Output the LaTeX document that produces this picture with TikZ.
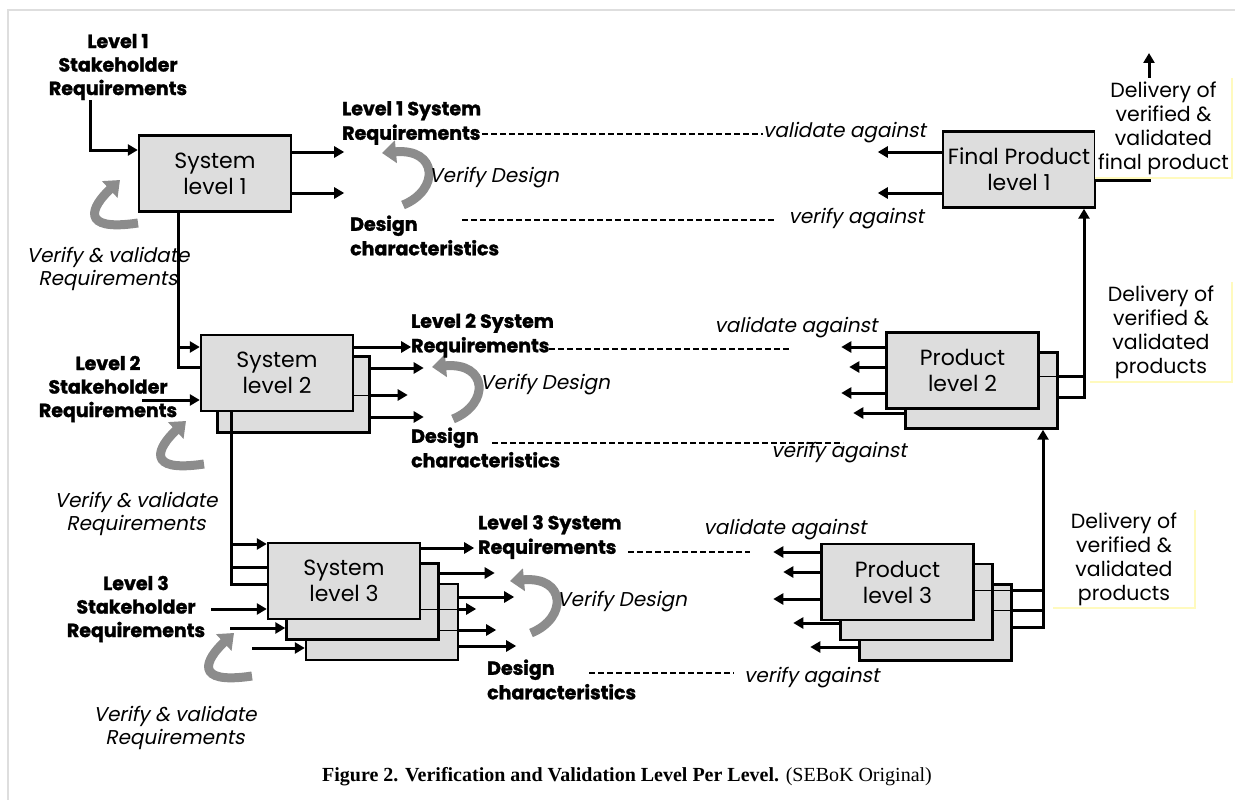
\documentclass[tikz,border=0pt]{standalone}
\usepackage{fontspec}
\setmainfont{Poppins}[AutoFakeSlant=0.2, BoldFeatures={FakeBold=1.5}]
\newfontfamily\capfont{Liberation Serif}
\usetikzlibrary{arrows.meta, positioning, calc}
\definecolor{BoxGray}{RGB}{221,221,221}
\definecolor{TurnGray}{RGB}{140,140,140}
\definecolor{NoteYellow}{RGB}{255,250,190}
\definecolor{FrameGray}{RGB}{222,222,222}

\tikzset{
  sysbox/.style={draw, line width=2.4pt, fill=BoxGray, minimum width=152pt, minimum height=76pt,
    inner sep=0pt, align=center, font=\fontsize{22}{26}\selectfont},
  stktag/.style={inner sep=0pt, align=center, font=\bfseries\fontsize{19}{23.5}\selectfont},
  boldtag/.style={inner sep=0pt, align=left, anchor=west, font=\bfseries\fontsize{19}{24.5}\selectfont},
  ittag/.style={inner sep=0pt, align=center, font=\itshape\fontsize{20}{23}\selectfont},
  notetag/.style={inner sep=0pt, align=center, fill=white, font=\fontsize{20.5}{24}\selectfont},
  notebar/.style={draw=NoteYellow, line width=1.5pt},
  wire/.style={line width=3pt},
  wireout/.style={wire, -{Triangle[length=10pt,width=11pt]}},
  wirein/.style={wire, {Triangle[length=10pt,width=11pt]}-},
  thinwire/.style={line width=0.9pt},
  dashline/.style={line width=1.6pt, dash pattern=on 6pt off 3pt},
  turnarrow/.style={line width=9pt, draw=TurnGray, -{Triangle[length=14pt,width=22pt]}}
}

% curved grey arrows
\newcommand{\vvarrow}[1]{\draw[turnarrow, shift={(#1)}] (138,223) .. controls (78,232) and (92,206) .. (120,180);}
\newcommand{\vdarrow}[1]{\draw[turnarrow, shift={(#1)}] (403,205) .. controls (440,190) and (438,148) .. (382,153);}

\begin{document}
\begin{tikzpicture}[x=1pt, y=-1pt]
\useasboundingbox (0,0) rectangle (1235,800);
\draw[FrameGray, line width=1.5pt] (8,800) -- (8,10) -- (1235,10);

% system side
\node[sysbox] (sys1) at (215,173.5) {System\\level 1};
\node[sysbox] (sys2b) at (293.5,394.5) {};
\node[sysbox] (sys2) at (277,373) {System\\level 2};
\node[sysbox] (sys3b) at (382,622) {};
\node[sysbox] (sys3m) at (362.5,601.5) {};
\node[sysbox] (sys3) at (344,581) {System\\level 3};

% product side
\node[sysbox] (fin1) at (1019,169.5) {Final Product\\level 1};
\node[sysbox] (prod2b) at (981.5,390.5) {};
\node[sysbox] (prod2) at (962.5,370.5) {Product\\level 2};
\node[sysbox] (prod3b) at (935.5,622.5) {};
\node[sysbox] (prod3m) at (916.5,602) {};
\node[sysbox] (prod3) at (897.5,582) {Product\\level 3};

% grey turn arrows
\vvarrow{0,0}
\vvarrow{66,241}
\vvarrow{114,453}
\vdarrow{0,0}
\vdarrow{50,214}
\vdarrow{128,428}

% labels
\node[stktag] (stk1) at (118,67) {Level 1\\Stakeholder\\Requirements};
\node[stktag] (stk2) at (108,389) {Level 2\\Stakeholder\\Requirements};
\node[stktag] (stk3) at (136,609) {Level 3\\Stakeholder\\Requirements};
\node[ittag] (vv1) at (108,269) {Verify \& validate\\Requirements};
\node[ittag] (vv2) at (136,514) {Verify \& validate\\Requirements};
\node[ittag] (vv3) at (175,728) {Verify \& validate\\Requirements};
\node[boldtag] (srq1) at (342,123) {Level 1 System\\Requirements};
\node[boldtag] (srq2) at (411,335.5) {Level 2 System\\Requirements};
\node[boldtag] (srq3) at (478,537) {Level 3 System\\Requirements};
\node[boldtag] (dsg1) at (350,235.5) {Design\\characteristics};
\node[boldtag] (dsg2) at (411,447.5) {Design\\characteristics};
\node[boldtag] (dsg3) at (487,679.5) {Design\\characteristics};
\node[ittag, anchor=west] (vd1) at (429,178) {Verify Design};
\node[ittag, anchor=west] (vd2) at (480,385) {Verify Design};
\node[ittag, anchor=west] (vd3) at (557,602) {Verify Design};
\node[ittag, anchor=east] (val1) at (926,133) {validate against};
\node[ittag, anchor=east] (ver1) at (924,219) {verify against};
\node[ittag] (val2) at (796,328) {validate against};
\node[ittag] (ver2) at (839,453) {verify against};
\node[ittag] (val3) at (785,530) {validate against};
\node[ittag, anchor=west] (ver3) at (744,678) {verify against};

% inputs on the system side
\draw[wireout] (stk1.south -| 90,0) |- (sys1.west |- 0,150);
\draw[wire] (sys1.south -| 178,0) |- (sys2.west |- 0,367);
\coordinate (j1) at (178,347);
\draw[wireout] (j1) -- (sys2.west |- j1);
\draw[wirein] (sys2.west |- 0,400) -- ++(-58,0);
\draw[wire] (sys2.south -| 231,0) |- (sys3.west |- 0,584);
\coordinate (j2) at (231,544);
\coordinate (j3) at (231,567);
\draw[wireout] (j2) -- (sys3.west |- j2);
\draw[wire] (j3) -- (sys3.west |- j3);
\draw[wirein] (sys3.west |- 0,609) -- ++(-56,0);
\draw[wirein] (sys3m.west |- 0,628) -- ++(-55,0);
\draw[wirein] (sys3b.west |- 0,648) -- ++(-53,0);

% outputs on the system side
\foreach \y in {152,193} \draw[wireout] (sys1.east |- 0,\y) -- ++(52,0);
\draw[wireout] (sys2.east |- 0,347) -- ++(57,0);
\draw[wireout] (sys2b.east |- 0,368) -- ++(53,0);
\draw[thinwire] (sys2.east |- 0,395) -- (sys2b.east |- 0,395);
\draw[wireout] (sys2b.east |- 0,395) -- ++(37,0);
\draw[wireout] (sys2b.east |- 0,417) -- ++(53,0);
\draw[wireout] (sys3.east |- 0,548) -- ++(53,0);
\draw[wireout] (sys3m.east |- 0,573) -- ++(55,0);
\draw[wireout] (sys3b.east |- 0,597) -- ++(55,0);
\draw[thinwire] (sys3.east |- 0,609) -- (sys3b.east |- 0,609);
\draw[wireout] (sys3b.east |- 0,609) -- ++(17,0);
\draw[thinwire] (sys3m.east |- 0,630) -- (sys3b.east |- 0,630);
\draw[wireout] (sys3b.east |- 0,630) -- ++(37,0);
\draw[wireout] (sys3b.east |- 0,646) -- ++(57,0);

% outputs on the product side
\foreach \y in {152,193} \draw[wireout] (fin1.west |- 0,\y) -- ++(-64,0);
\foreach \y/\l in {347/44,367/36,393/44} \draw[wireout] (prod2.west |- 0,\y) -- ++(-\l,0);
\draw[wireout] (prod2b.west |- 0,413) -- ++(-51,0);
\foreach \y/\l in {552/47,572/37,599/47} \draw[wireout] (prod3.west |- 0,\y) -- ++(-\l,0);
\draw[wireout] (prod3m.west |- 0,623) -- ++(-46,0);
\draw[wireout] (prod3b.west |- 0,647) -- ++(-48,0);

% deliveries
\coordinate (up1) at (1149,53);
\draw[wireout] (fin1.east |- 0,180) -| (up1);
\coordinate (up2) at (1084,0);
\draw[thinwire] (prod2.east |- 0,376) -- (prod2b.east |- 0,376);
\draw[wire] (prod2b.east |- 0,376) -- (up2 |- 0,376);
\draw[wireout] (prod2b.east |- 0,397) -| (fin1.south -| up2);
\coordinate (up3) at (1043,0);
\draw[thinwire] (prod3.east |- 0,590) -- (prod3b.east |- 0,590);
\draw[wire] (prod3b.east |- 0,590) -- (up3 |- 0,590);
\draw[thinwire] (prod3m.east |- 0,610) -- (prod3b.east |- 0,610);
\draw[wire] (prod3b.east |- 0,610) -- (up3 |- 0,610);
\draw[wireout] (prod3b.east |- 0,627) -| (prod2b.south -| up3);

\node[notetag, minimum width=137pt, minimum height=100pt] (dlv1) at (1163.5,128) {Delivery of\\verified \&\\validated\\final product};
\node[notetag, minimum width=142pt, minimum height=100pt] (dlv2) at (1161,332) {Delivery of\\verified \&\\validated\\products};
\node[notetag, minimum width=142pt, minimum height=98pt] (dlv3) at (1124,559) {Delivery of\\verified \&\\validated\\products};
\foreach \n in {dlv1,dlv2,dlv3} \draw[notebar] (\n.north east) -- (\n.south east) -- (\n.south west);

% dashed links
\coordinate (q1) at (482,134);
\draw[dashline] (q1) -- (q1 -| val1.west);
\coordinate (e1a) at (462,220);
\coordinate (e1b) at (774,220);
\draw[dashline] (e1a) -- (e1b);
\coordinate (q2a) at (549,349);
\coordinate (q2b) at (790,349);
\draw[dashline] (q2a) -- (q2b);
\coordinate (e2a) at (492,443);
\coordinate (e2b) at (843,443);
\draw[dashline] (e2a) -- (e2b);
\coordinate (q3a) at (628,552);
\coordinate (q3b) at (750,552);
\draw[dashline] (q3a) -- (q3b);
\coordinate (e3a) at (589,673);
\coordinate (e3b) at (734,673);
\draw[dashline] (e3a) -- (e3b);

\node[inner sep=0pt, font=\capfont\fontsize{20}{23}\selectfont] (cap) at (627,777)
  {\textbf{Figure 2. Verification and Validation Level Per Level.} (SEBoK Original)};
\end{tikzpicture}
\end{document}
